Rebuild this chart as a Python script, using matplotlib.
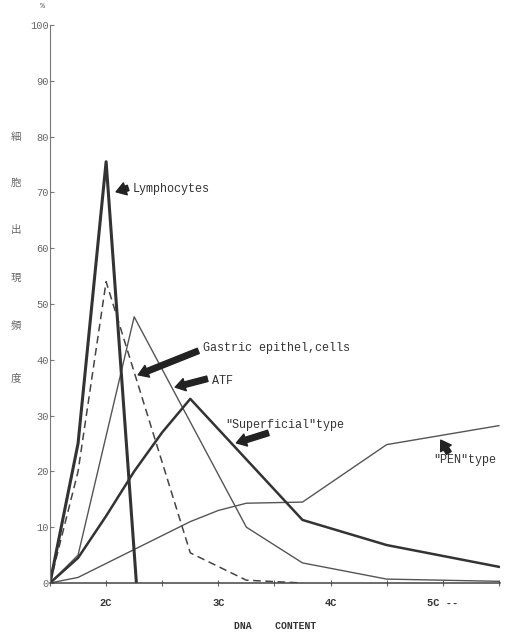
import matplotlib.pyplot as plt
import numpy as np

# Data (DNA content in C units, percent of cells)

lymph_x = [1.5, 1.75, 2.0, 2.27]
lymph_y = [0, 25, 75.5, 0]

gastric_x = [1.5, 1.75, 2.0, 2.75, 3.25, 3.75]
gastric_y = [0, 20, 54, 5.4, 0.5, 0]

atf_x = [1.5, 1.75, 2.25, 3.25, 3.75, 4.5, 5.5]
atf_y = [0, 5, 47.7, 10, 3.6, 0.7, 0.3]

superficial_x = [1.5, 1.75, 2.0, 2.25, 2.5, 2.75, 3.75, 4.5, 5.5]
superficial_y = [0, 4.5, 12, 20, 27, 33, 11.3, 6.8, 2.9]

pen_x = [1.5, 1.75, 2.0, 2.25, 2.5, 2.75, 3.0, 3.25, 3.75, 4.5, 5.5]
pen_y = [0, 1, 3.5, 6, 8.5, 11, 13, 14.3, 14.5, 24.8, 28.2]

x_ticks = [1.5, 2.0, 2.5, 3.0, 3.5, 4.0, 4.5, 5.0, 5.5]
x_labels = ["", "2C", "", "3C", "", "4C", "", "5C --", ""]
y_ticks = list(range(0, 101, 10))

mono = "Liberation Mono"

fig = plt.figure(figsize=(5.26, 6.33), dpi=100)
ax = fig.add_axes([50 / 526, 50 / 633, 450 / 526, 558 / 633])

ax.plot(pen_x, pen_y, color="#555555", lw=1.0)
ax.plot(atf_x, atf_y, color="#555555", lw=1.0)
ax.plot(gastric_x, gastric_y, color="#444444", lw=1.1, ls=(0, (5, 3)))
ax.plot(superficial_x, superficial_y, color="#333333", lw=1.8, solid_joinstyle="round")
ax.plot(lymph_x, lymph_y, color="#333333", lw=2.2, solid_joinstyle="round")

ax.set_xlim(1.5, 5.51)
ax.set_ylim(0, 100)
ax.spines["top"].set_visible(False)
ax.spines["right"].set_visible(False)
ax.spines["left"].set_color("#777777")
ax.spines["bottom"].set_color("#444444")
ax.spines["bottom"].set_linewidth(1.1)

ax.set_xticks(x_ticks)
ax.set_xticklabels(x_labels, fontfamily=mono, fontsize=7.5, fontweight="bold", color="#333333")
ax.tick_params(axis="x", direction="inout", length=4, width=0.8, color="#666666", pad=9)
ax.set_yticks(y_ticks)
ax.set_yticklabels([str(v) for v in y_ticks], fontfamily=mono, fontsize=7.5, color="#666666")
ax.tick_params(axis="y", direction="in", length=3, width=0.8, color="#777777", pad=1)

ax.set_xlabel("DNA    CONTENT", fontfamily=mono, fontsize=7, fontweight="bold",
              color="#333333", labelpad=9)

# Annotations with hand-drawn style arrows

arrow = dict(arrowstyle="simple,head_width=0.9,head_length=0.7,tail_width=0.4",
             color="#222222", shrinkA=0, shrinkB=0)
txt = dict(fontfamily=mono, fontsize=8.5, color="#333333", va="center")

ax.annotate("", xy=(2.089, 70.1), xytext=(2.196, 70.8), arrowprops=arrow)
ax.text(2.232, 70.6, "Lymphocytes", **txt)

ax.annotate("", xy=(2.286, 37.3), xytext=(2.821, 41.6), arrowprops=arrow)
ax.text(2.866, 42.1, "Gastric epithel,cells", **txt)

ax.annotate("", xy=(2.616, 35.1), xytext=(2.902, 36.6), arrowprops=arrow)
ax.text(2.946, 36.2, "ATF", **txt)

ax.annotate("", xy=(3.161, 25.1), xytext=(3.446, 26.9), arrowprops=arrow)
ax.text(3.06, 28.3, "\"Superficial\"type", **txt)

ax.annotate("", xy=(4.982, 25.6), xytext=(5.054, 23.3), arrowprops=arrow)
ax.text(4.911, 22.0, "\"PEN\"type", **txt)

# Vertical Japanese axis label and percent sign

ylabel_chars = ["細", "胞", "出", "現", "頻", "度"]
ylabel_rows = [137, 183, 230, 278, 325, 378]
for ch, row in zip(ylabel_chars, ylabel_rows):
    fig.text(16 / 526, 1 - row / 633, ch, family=["Noto Sans CJK JP", "DejaVu Sans"],
             fontsize=7.5, color="#666666", ha="center", va="center")

fig.text(43 / 526, 1 - 7 / 633, "%", fontfamily=mono, fontsize=6, color="#666666",
         ha="center", va="center")

fig.savefig("out.png", dpi=100)
